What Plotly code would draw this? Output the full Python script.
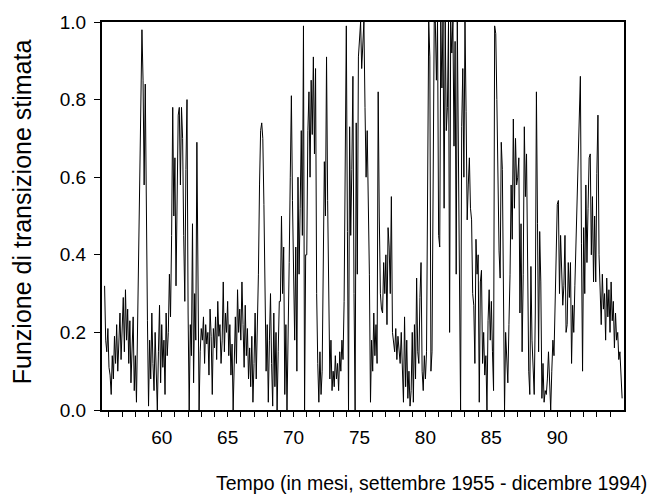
import plotly.graph_objects as go

# Monthly series, September 1955 - December 1994
start_year = 1955
start_month = 9

funzione = [
    0.32, 0.18, 0.15, 0.21,                                                  # 1955 (Sep-Dec)
    0.11, 0.09, 0.04, 0.14, 0.08, 0.19, 0.12, 0.22, 0.10, 0.17, 0.25, 0.13,  # 1956
    0.21, 0.29, 0.15, 0.31, 0.18, 0.26, 0.12, 0.23, 0.07, 0.19, 0.24, 0.05,  # 1957
    0.14, 0.02, 0.22, 0.35, 0.53, 0.75, 0.98, 0.85, 0.58, 0.84, 0.46, 0.23,  # 1958
    0.01, 0.18, 0.08, 0.25, 0.12, 0.05, 0.20, 0.10, 0.00, 0.15, 0.27, 0.07,  # 1959
    0.22, 0.11, 0.18, 0.04, 0.25, 0.14, 0.20, 0.35, 0.24, 0.45, 0.78, 0.50,  # 1960
    0.65, 0.32, 0.55, 0.76, 0.78, 0.58, 0.78, 0.70, 0.45, 0.28, 0.62, 0.80,  # 1961
    0.25, 0.00, 0.22, 0.14, 0.48, 0.07, 0.30, 0.18, 0.69, 0.35, 0.00, 0.15,  # 1962
    0.21, 0.18, 0.24, 0.12, 0.22, 0.17, 0.20, 0.09, 0.26, 0.19, 0.04, 0.21,  # 1963
    0.16, 0.24, 0.13, 0.28, 0.19, 0.22, 0.12, 0.18, 0.33, 0.15, 0.25, 0.20,  # 1964
    0.28, 0.14, 0.22, 0.09, 0.17, 0.00, 0.15, 0.24, 0.12, 0.31, 0.20, 0.26,  # 1965
    0.18, 0.33, 0.22, 0.11, 0.27, 0.14, 0.21, 0.08, 0.16, 0.06, 0.19, 0.02,  # 1966
    0.12, 0.25, 0.08, 0.20, 0.35, 0.58, 0.72, 0.74, 0.70, 0.53, 0.28, 0.10,  # 1967
    0.22, 0.02, 0.18, 0.30, 0.12, 0.01, 0.25, 0.06, 0.20, 0.00, 0.15, 0.28,  # 1968
    0.28, 0.50, 0.30, 0.42, 0.04, 0.22, 0.00, 0.15, 0.38, 0.60, 0.81, 0.54,  # 1969
    0.30, 0.18, 0.42, 0.10, 0.60, 0.35, 0.52, 0.72, 0.45, 0.99, 0.00, 0.40,  # 1970
    0.40, 0.72, 0.82, 0.60, 0.85, 0.71, 0.91, 0.66, 0.88, 0.30, 0.12, 0.02,  # 1971
    0.15, 0.04, 0.10, 0.33, 0.64, 0.50, 0.91, 0.54, 0.25, 0.08, 0.18, 0.05,  # 1972
    0.10, 0.06, 0.14, 0.08, 0.12, 0.05, 0.15, 0.10, 0.18, 0.13, 0.28, 0.58,  # 1973
    0.99, 0.46, 0.00, 0.73, 0.45, 0.62, 0.86, 0.30, 0.00, 0.74, 0.35, 0.91,  # 1974
    0.95, 1.00, 0.88, 0.97, 1.00, 0.78, 0.60, 0.72, 0.57, 0.35, 0.02, 0.18,  # 1975
    0.10, 0.25, 0.14, 0.22, 0.12, 0.82, 0.50, 0.30, 0.26, 0.25, 0.38, 0.30,  # 1976
    0.40, 0.22, 0.47, 0.42, 0.30, 0.55, 0.20, 0.18, 0.15, 0.21, 0.13, 0.19,  # 1977
    0.16, 0.12, 0.20, 0.08, 0.02, 0.24, 0.06, 0.18, 0.03, 0.10, 0.01, 0.05,  # 1978
    0.20, 0.02, 0.22, 0.08, 0.34, 0.15, 0.12, 0.29, 0.38, 0.10, 0.05, 0.14,  # 1979
    0.08, 0.15, 0.51, 1.00, 0.91, 0.10, 0.15, 0.49, 1.00, 1.00, 0.85, 1.00,  # 1980
    0.45, 0.42, 1.00, 0.83, 1.00, 0.52, 1.00, 0.72, 0.78, 1.00, 0.20, 1.00,  # 1981
    0.92, 1.00, 0.68, 0.95, 0.35, 1.00, 0.61, 0.39, 0.00, 0.73, 0.88, 0.60,  # 1982
    1.00, 0.77, 0.49, 0.58, 0.65, 0.52, 0.49, 0.30, 0.27, 0.12, 0.44, 0.35,  # 1983
    0.40, 0.02, 0.33, 0.36, 0.12, 0.20, 0.09, 0.14, 0.00, 0.23, 0.31, 0.18,  # 1984
    0.28, 0.15, 0.05, 0.99, 0.97, 0.80, 0.57, 0.41, 0.34, 0.69, 0.62, 0.20,  # 1985
    0.00, 0.20, 0.12, 0.07, 0.22, 0.35, 0.58, 0.44, 0.75, 0.52, 0.70, 0.58,  # 1986
    0.60, 0.65, 0.25, 0.48, 0.15, 0.35, 0.73, 0.55, 0.66, 0.38, 0.10, 0.04,  # 1987
    0.37, 0.18, 0.08, 0.04, 0.25, 0.82, 0.48, 0.15, 0.46, 0.33, 0.03, 0.12,  # 1988
    0.02, 0.05, 0.04, 0.08, 0.15, 0.06, 0.00, 0.10, 0.18, 0.14, 0.25, 0.36,  # 1989
    0.53, 0.54, 0.30, 0.45, 0.35, 0.27, 0.32, 0.45, 0.20, 0.22, 0.38, 0.29,  # 1990
    0.38, 0.12, 0.27, 0.20, 0.32, 0.42, 0.55, 0.65, 0.76, 0.86, 0.43, 0.10,  # 1991
    0.47, 0.30, 0.58, 0.38, 0.52, 0.65, 0.66, 0.40, 0.55, 0.33, 0.50, 0.33,  # 1992
    0.61, 0.76, 0.40, 0.32, 0.22, 0.35, 0.26, 0.30, 0.18, 0.34, 0.24, 0.31,  # 1993
    0.20, 0.33, 0.23, 0.28, 0.16, 0.25, 0.18, 0.20, 0.13, 0.15, 0.06, 0.03,  # 1994
]

x_tick_values = [60, 65, 70, 75, 80, 85, 90]
x_tick_labels = ["60", "65", "70", "75", "80", "85", "90"]
x_minor_values = list(range(56, 95))
y_tick_values = [0.0, 0.2, 0.4, 0.6, 0.8, 1.0]
y_tick_labels = ["0.0", "0.2", "0.4", "0.6", "0.8", "1.0"]

x_title = "Tempo (in mesi, settembre 1955 - dicembre 1994)"
y_title = "Funzione di transizione stimata"

# time coordinate (two-digit years) for each monthly observation
t = [(start_year - 1900) + (start_month - 1 + i) / 12.0 for i in range(len(funzione))]

FONT = "Arial, Liberation Sans, sans-serif"

fig = go.Figure()
fig.add_trace(go.Scatter(x=t, y=funzione, mode="lines",
                         line=dict(color="black", width=1), hoverinfo="skip"))

fig.update_layout(
    width=655, height=504,
    margin=dict(l=102, r=31, t=19, b=94),
    paper_bgcolor="white", plot_bgcolor="white",
    showlegend=False,
    font=dict(family=FONT, color="black", size=19),
)
fig.update_xaxes(
    range=[55.47, 95.06],
    tickmode="array", tickvals=x_tick_values, ticktext=x_tick_labels,
    ticks="outside", ticklen=5, tickwidth=1, tickcolor="black",
    ticklabelstandoff=4,
    minor=dict(tickmode="array", tickvals=x_minor_values, ticks="outside",
               ticklen=5, tickwidth=1, tickcolor="black", showgrid=False),
    showline=True, linecolor="black", linewidth=2, mirror=True,
    showgrid=False, zeroline=False,
    tickfont=dict(family=FONT, size=19, color="black"),
)
fig.update_yaxes(
    range=[0, 1],
    tickmode="array", tickvals=y_tick_values, ticktext=y_tick_labels,
    ticks="outside", ticklen=6, tickwidth=1, tickcolor="black",
    ticklabelstandoff=4,
    showline=True, linecolor="black", linewidth=2, mirror=True,
    showgrid=False, zeroline=False,
    tickfont=dict(family=FONT, size=19, color="black"),
)
fig.add_annotation(text=x_title, xref="paper", yref="paper",
                   x=0.632, y=-0.187, xanchor="center", yanchor="middle",
                   showarrow=False, font=dict(family=FONT, size=19.5, color="black"))
fig.add_annotation(text=y_title, xref="paper", yref="paper",
                   x=-0.153, y=0.51, xanchor="center", yanchor="middle",
                   textangle=-90, showarrow=False,
                   font=dict(family=FONT, size=25, color="black"))

fig.write_html("out.html")
